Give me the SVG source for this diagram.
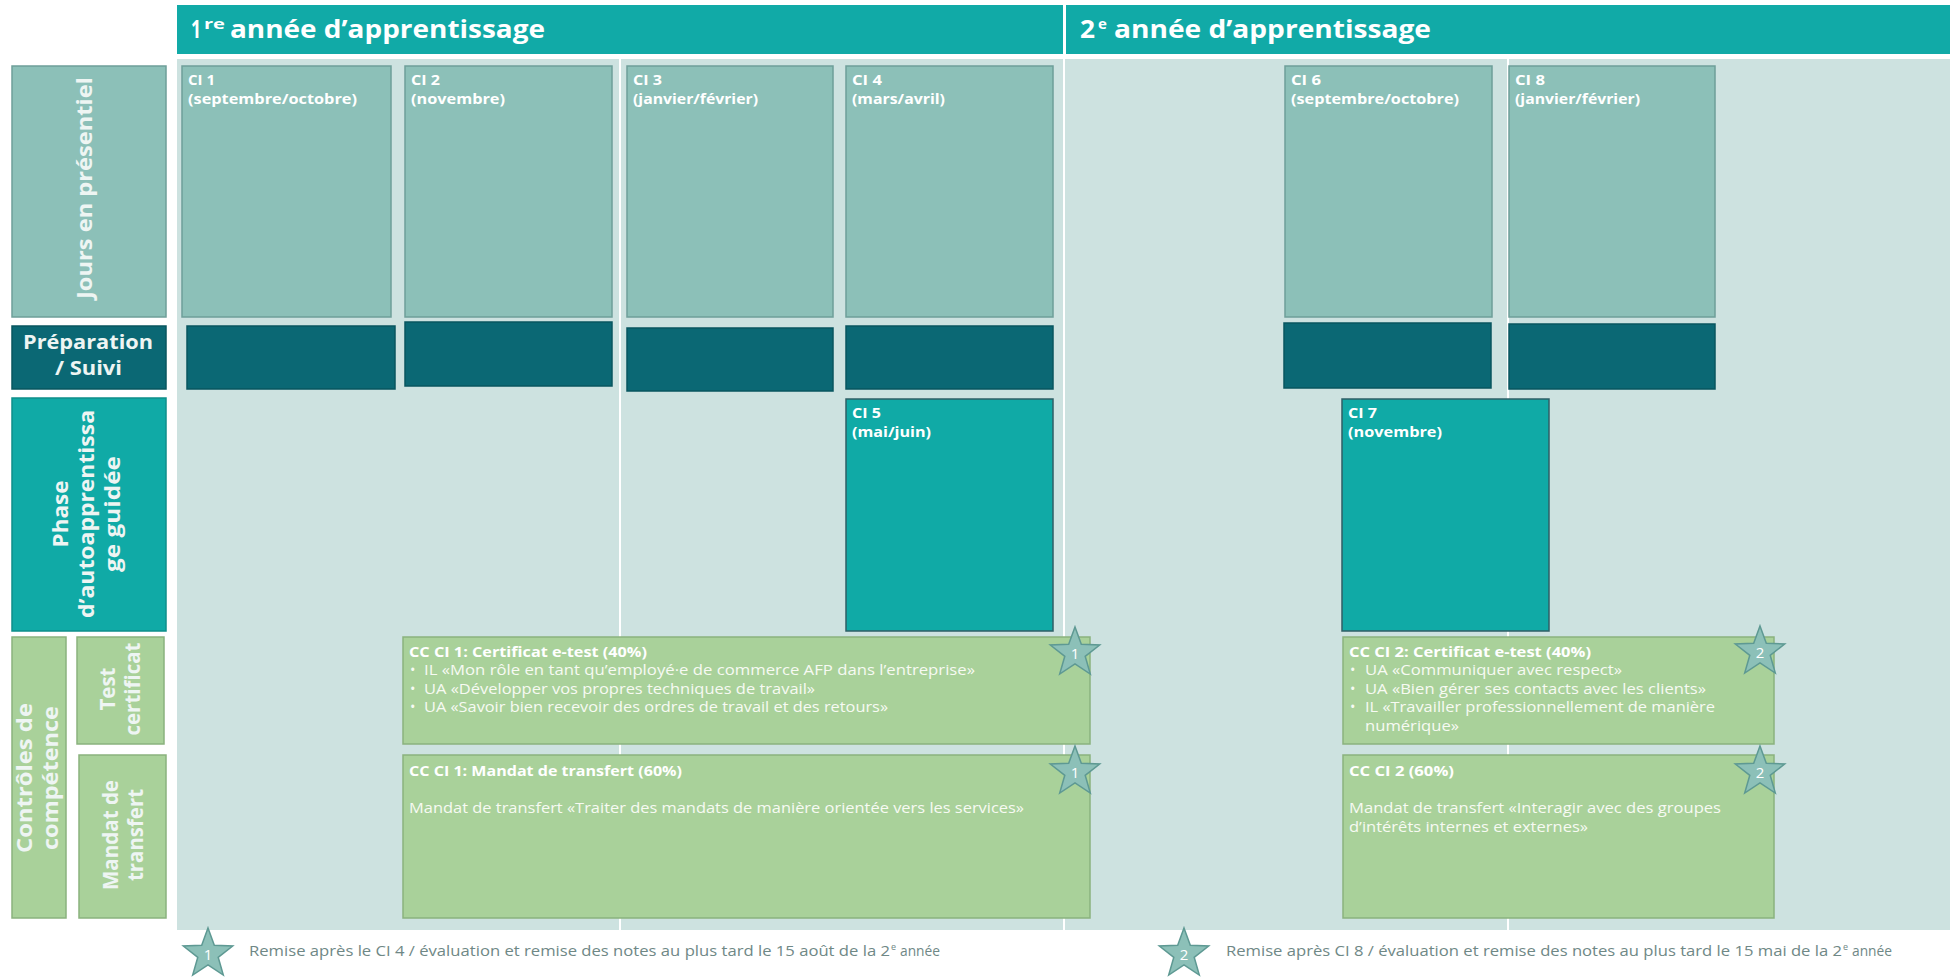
<svg xmlns="http://www.w3.org/2000/svg" xmlns:xlink="http://www.w3.org/1999/xlink" width="1954" height="977" viewBox="0 0 1954 977">
<style>
.hdr{fill:#11AAA7}
.panel{fill:#CDE2E0}
.ci{fill:#8CC0B8;stroke:#6E9F99;stroke-width:1.5}
.prep{fill:#0B6874;stroke:#08565F;stroke-width:1.5}
.teal{fill:#10AAA6;stroke:#2E5F66;stroke-width:1.5}
.green{fill:#A9D19A;stroke:#8AB27E;stroke-width:1.5}
.star{fill:#8CC0B8;stroke:#5E9993;stroke-width:1.5}
.div{stroke:#FFFFFF;stroke-width:2}
.h{font-family:"Open Sans","Liberation Sans",sans-serif;font-weight:700;font-size:25px;fill:#FFFFFF}
.lab{font-family:"Open Sans","Liberation Sans",sans-serif;font-weight:700;font-size:21px;fill:#EEF5F3}
.cit{font-family:"Open Sans","Liberation Sans",sans-serif;font-weight:700;font-size:14px;fill:#FFFFFF}
.bt{font-family:"Open Sans","Liberation Sans",sans-serif;font-weight:700;font-size:14.5px;fill:#FFFFFF}
.bd{font-family:"Open Sans","Liberation Sans",sans-serif;font-weight:400;font-size:14.5px;fill:#F7FAF3}
.num{font-family:"Open Sans","Liberation Sans",sans-serif;font-weight:400;font-size:15px;fill:#FFFFFF;text-anchor:middle}
.ft{font-family:"Open Sans","Liberation Sans",sans-serif;font-weight:400;font-size:14.5px;fill:#6F8886}
</style>
<defs>
<path id="starShape" d="M0,-26 L6.3,-8.7 L24.7,-8 L10.2,3.3 L15.3,21 L0,10.8 L-15.3,21 L-10.2,3.3 L-24.7,-8 L-6.3,-8.7 Z"/>
</defs>

<g id="background">
<rect class="panel" x="177" y="59" width="1773" height="871"/>
<line class="div" x1="620" y1="59" x2="620" y2="930"/>
<line class="div" x1="1064" y1="5" x2="1064" y2="930"/>
<line class="div" x1="1508" y1="59" x2="1508" y2="930"/>
</g>

<g id="header-year1"><rect class="hdr" x="177" y="5" width="886" height="49"/>
<text class="h" x="191" y="38" textLength="10" lengthAdjust="spacingAndGlyphs">1</text><text class="h" x="204" y="29" style="font-size:15px" textLength="21" lengthAdjust="spacingAndGlyphs">re</text>
<text class="h" x="230" y="38" textLength="315" lengthAdjust="spacingAndGlyphs">année d’apprentissage</text></g>
<g id="header-year2"><rect class="hdr" x="1066" y="5" width="884" height="49"/>
<text class="h" x="1080" y="38" textLength="15" lengthAdjust="spacingAndGlyphs">2</text><text class="h" x="1098" y="29" style="font-size:15px">e</text>
<text class="h" x="1114" y="38" textLength="317" lengthAdjust="spacingAndGlyphs">année d’apprentissage</text></g>

<g id="label-jours"><rect class="ci" x="12" y="66" width="154" height="251"/>
<text class="lab" transform="translate(92,188) rotate(-90)" x="-111" y="0" textLength="222" lengthAdjust="spacingAndGlyphs">Jours en présentiel</text></g>
<g id="label-prep"><rect class="prep" x="12" y="326" width="154" height="63"/>
<text class="lab" x="23" y="349" style="font-size:19px" textLength="130" lengthAdjust="spacingAndGlyphs">Préparation</text>
<text class="lab" x="55" y="375" style="font-size:19px" textLength="67" lengthAdjust="spacingAndGlyphs">/ Suivi</text></g>
<g id="label-phase"><rect class="teal" x="12" y="398" width="154" height="233" style="stroke:#0E8F8B"/>
<text class="lab" transform="translate(68,514) rotate(-90)" x="-33.5" y="0" textLength="67" lengthAdjust="spacingAndGlyphs">Phase</text>
<text class="lab" transform="translate(94,514) rotate(-90)" x="-104" y="0" textLength="208" lengthAdjust="spacingAndGlyphs">d’autoapprentissa</text>
<text class="lab" transform="translate(120,514) rotate(-90)" x="-58" y="0" textLength="116" lengthAdjust="spacingAndGlyphs">ge guidée</text></g>
<g id="label-controles"><rect class="green" x="12" y="637" width="54" height="281"/>
<text class="lab" transform="translate(32,778) rotate(-90)" x="-75" y="0" textLength="150" lengthAdjust="spacingAndGlyphs">Contrôles de</text>
<text class="lab" transform="translate(58,778) rotate(-90)" x="-72" y="0" textLength="144" lengthAdjust="spacingAndGlyphs">compétence</text></g>
<g id="label-test"><rect class="green" x="77" y="637" width="87" height="107"/>
<text class="lab" transform="translate(115,689) rotate(-90)" x="-21.5" y="0" textLength="43" lengthAdjust="spacingAndGlyphs">Test</text>
<text class="lab" transform="translate(140,689) rotate(-90)" x="-46.5" y="0" textLength="93" lengthAdjust="spacingAndGlyphs">certificat</text></g>
<g id="label-mandat"><rect class="green" x="79" y="755" width="87" height="163"/>
<text class="lab" transform="translate(118,835) rotate(-90)" x="-55" y="0" textLength="110" lengthAdjust="spacingAndGlyphs">Mandat de</text>
<text class="lab" transform="translate(143,835) rotate(-90)" x="-46" y="0" textLength="92" lengthAdjust="spacingAndGlyphs">transfert</text></g>

<g id="ci1"><rect class="ci" x="182" y="66" width="209" height="251"/>
<text class="cit" x="188" y="85" textLength="27" lengthAdjust="spacingAndGlyphs">CI 1</text><text class="cit" x="188" y="104" textLength="169" lengthAdjust="spacingAndGlyphs">(septembre/octobre)</text></g>
<g id="ci2"><rect class="ci" x="405" y="66" width="207" height="251"/>
<text class="cit" x="411" y="85" textLength="29" lengthAdjust="spacingAndGlyphs">CI 2</text><text class="cit" x="411" y="104" textLength="94" lengthAdjust="spacingAndGlyphs">(novembre)</text></g>
<g id="ci3"><rect class="ci" x="627" y="66" width="206" height="251"/>
<text class="cit" x="633" y="85" textLength="29" lengthAdjust="spacingAndGlyphs">CI 3</text><text class="cit" x="633" y="104" textLength="125" lengthAdjust="spacingAndGlyphs">(janvier/février)</text></g>
<g id="ci4"><rect class="ci" x="846" y="66" width="207" height="251"/>
<text class="cit" x="852" y="85" textLength="30" lengthAdjust="spacingAndGlyphs">CI 4</text><text class="cit" x="852" y="104" textLength="93" lengthAdjust="spacingAndGlyphs">(mars/avril)</text></g>
<g id="ci6"><rect class="ci" x="1285" y="66" width="207" height="251"/>
<text class="cit" x="1291" y="85" textLength="30" lengthAdjust="spacingAndGlyphs">CI 6</text><text class="cit" x="1291" y="104" textLength="168" lengthAdjust="spacingAndGlyphs">(septembre/octobre)</text></g>
<g id="ci8"><rect class="ci" x="1509" y="66" width="206" height="251"/>
<text class="cit" x="1515" y="85" textLength="30" lengthAdjust="spacingAndGlyphs">CI 8</text><text class="cit" x="1515" y="104" textLength="125" lengthAdjust="spacingAndGlyphs">(janvier/février)</text></g>

<g id="prep1"><rect class="prep" x="187" y="326" width="208" height="63"/></g>
<g id="prep2"><rect class="prep" x="405" y="322" width="207" height="64"/></g>
<g id="prep3"><rect class="prep" x="627" y="328" width="206" height="63"/></g>
<g id="prep4"><rect class="prep" x="846" y="326" width="207" height="63"/></g>
<g id="prep6"><rect class="prep" x="1284" y="323" width="207" height="65"/></g>
<g id="prep8"><rect class="prep" x="1509" y="324" width="206" height="65"/></g>

<g id="ci5"><rect class="teal" x="846" y="399" width="207" height="232"/>
<text class="cit" x="852" y="418" textLength="29" lengthAdjust="spacingAndGlyphs">CI 5</text><text class="cit" x="852" y="437" textLength="79" lengthAdjust="spacingAndGlyphs">(mai/juin)</text></g>
<g id="ci7"><rect class="teal" x="1342" y="399" width="207" height="232"/>
<text class="cit" x="1348" y="418" textLength="29" lengthAdjust="spacingAndGlyphs">CI 7</text><text class="cit" x="1348" y="437" textLength="94" lengthAdjust="spacingAndGlyphs">(novembre)</text></g>

<g id="cc1-test"><rect class="green" x="403" y="637" width="687" height="107"/>
<text class="bt" x="409" y="657" textLength="238" lengthAdjust="spacingAndGlyphs">CC CI 1: Certificat e-test (40%)</text>
<text class="bd" x="410" y="675">•</text><text class="bd" x="424" y="675" textLength="551" lengthAdjust="spacingAndGlyphs">IL «Mon rôle en tant qu’employé·e de commerce AFP dans l’entreprise»</text>
<text class="bd" x="410" y="694">•</text><text class="bd" x="424" y="694" textLength="391" lengthAdjust="spacingAndGlyphs">UA «Développer vos propres techniques de travail»</text>
<text class="bd" x="410" y="712">•</text><text class="bd" x="424" y="712" textLength="464" lengthAdjust="spacingAndGlyphs">UA «Savoir bien recevoir des ordres de travail et des retours»</text></g>
<g id="cc1-mandat"><rect class="green" x="403" y="755" width="687" height="163"/>
<text class="bt" x="409" y="776" textLength="273" lengthAdjust="spacingAndGlyphs">CC CI 1: Mandat de transfert (60%)</text>
<text class="bd" x="409" y="813" textLength="615" lengthAdjust="spacingAndGlyphs">Mandat de transfert «Traiter des mandats de manière orientée vers les services»</text></g>
<g id="cc2-test"><rect class="green" x="1343" y="637" width="431" height="107"/>
<text class="bt" x="1349" y="657" textLength="242" lengthAdjust="spacingAndGlyphs">CC CI 2: Certificat e-test (40%)</text>
<text class="bd" x="1350" y="675">•</text><text class="bd" x="1365" y="675" textLength="257" lengthAdjust="spacingAndGlyphs">UA «Communiquer avec respect»</text>
<text class="bd" x="1350" y="694">•</text><text class="bd" x="1365" y="694" textLength="341" lengthAdjust="spacingAndGlyphs">UA «Bien gérer ses contacts avec les clients»</text>
<text class="bd" x="1350" y="712">•</text><text class="bd" x="1365" y="712" textLength="350" lengthAdjust="spacingAndGlyphs">IL «Travailler professionnellement de manière</text>
<text class="bd" x="1365" y="731" textLength="94" lengthAdjust="spacingAndGlyphs">numérique»</text></g>
<g id="cc2-mandat"><rect class="green" x="1343" y="755" width="431" height="163"/>
<text class="bt" x="1349" y="776" textLength="105" lengthAdjust="spacingAndGlyphs">CC CI 2 (60%)</text>
<text class="bd" x="1349" y="813" textLength="372" lengthAdjust="spacingAndGlyphs">Mandat de transfert «Interagir avec des groupes</text>
<text class="bd" x="1349" y="832" textLength="239" lengthAdjust="spacingAndGlyphs">d’intérêts internes et externes»</text></g>

<g id="star-cc1-test"><use xlink:href="#starShape" href="#starShape" class="star" x="1075" y="653"/><text class="num" x="1075" y="659">1</text></g>
<g id="star-cc1-mandat"><use xlink:href="#starShape" href="#starShape" class="star" x="1075" y="772"/><text class="num" x="1075" y="778">1</text></g>
<g id="star-cc2-test"><use xlink:href="#starShape" href="#starShape" class="star" x="1760" y="652"/><text class="num" x="1760" y="658">2</text></g>
<g id="star-cc2-mandat"><use xlink:href="#starShape" href="#starShape" class="star" x="1760" y="772"/><text class="num" x="1760" y="778">2</text></g>

<g id="legend-1"><use xlink:href="#starShape" href="#starShape" class="star" x="208" y="954"/><text class="num" x="208" y="960">1</text>
<text class="ft" x="249" y="956" textLength="641" lengthAdjust="spacingAndGlyphs">Remise après le CI 4 / évaluation et remise des notes au plus tard le 15 août de la 2</text>
<text class="ft" x="891" y="950" style="font-size:9px">e</text>
<text class="ft" x="900" y="956" textLength="40" lengthAdjust="spacingAndGlyphs">année</text></g>
<g id="legend-2"><use xlink:href="#starShape" href="#starShape" class="star" x="1184" y="954"/><text class="num" x="1184" y="960">2</text>
<text class="ft" x="1226" y="956" textLength="616" lengthAdjust="spacingAndGlyphs">Remise après CI 8 / évaluation et remise des notes au plus tard le 15 mai de la 2</text>
<text class="ft" x="1843" y="950" style="font-size:9px">e</text>
<text class="ft" x="1852" y="956" textLength="40" lengthAdjust="spacingAndGlyphs">année</text></g>

<g id="connectors"></g>
</svg>
